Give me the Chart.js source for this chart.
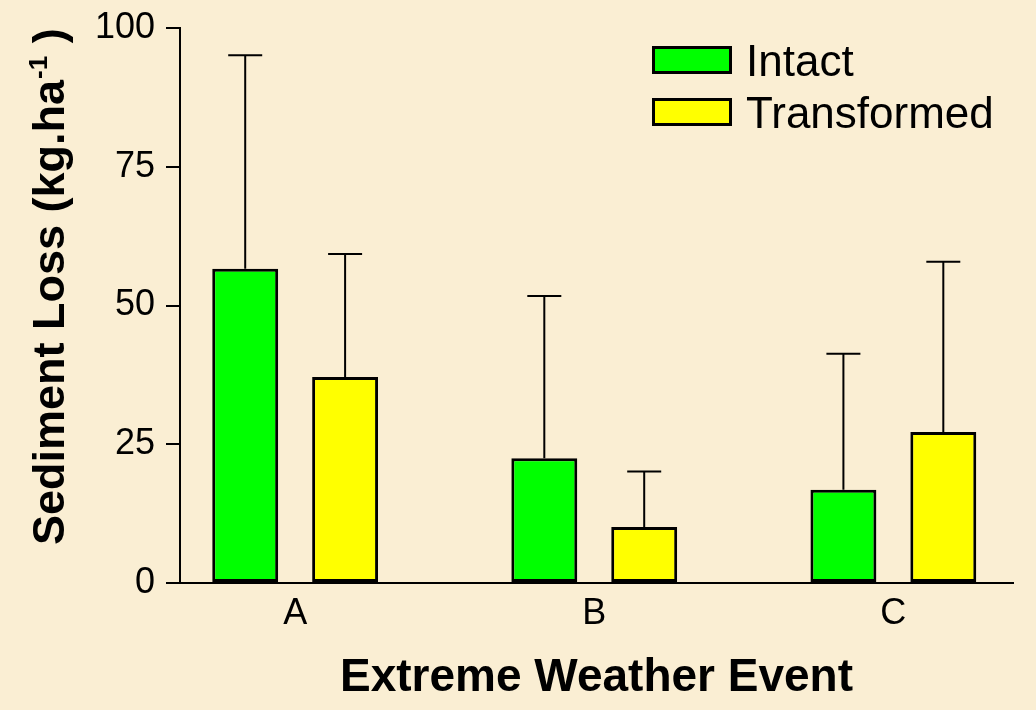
<!DOCTYPE html>
<html>
<head>
<meta charset="utf-8">
<script src="https://cdn.jsdelivr.net/npm/chart.js@4"></script>
<style>
  html, body { margin: 0; padding: 0; background: #faeed3; }
  #wrap { width: 1036px; height: 710px; }
</style>
</head>
<body>
<div id="wrap"><canvas id="sedimentChart"></canvas></div>
<script>
const events = ['A', 'B', 'C'];
const intactMean = [56.6, 22.5, 16.8];
const intactErr = [38.5, 29.2, 24.5];
const transformedMean = [37.1, 10.1, 27.2];
const transformedErr = [22.2, 10.0, 30.7];
const yTicks = [0, 25, 50, 75, 100];

const FONT = '"Liberation Sans", Arial, sans-serif';

// upper error bars (mean + SE)
const errorBars = {
    id: 'errorBars',
    afterDatasetsDraw(chart) {
        const ctx = chart.ctx;
        const y = chart.scales.y;
        ctx.save();
        ctx.strokeStyle = '#000';
        ctx.lineWidth = 2;
        chart.data.datasets.forEach((ds, di) => {
            const meta = chart.getDatasetMeta(di);
            meta.data.forEach((bar, i) => {
                const top = y.getPixelForValue(ds.data[i].y + ds.err[i]);
                ctx.beginPath();
                ctx.moveTo(bar.x, bar.y);
                ctx.lineTo(bar.x, top);
                ctx.moveTo(bar.x - 17, top);
                ctx.lineTo(bar.x + 17, top);
                ctx.stroke();
            });
        });
        ctx.restore();
    }
};

// y title with superscript, and the legend inside the plot
const extras = {
    id: 'extras',
    afterDraw(chart) {
        const ctx = chart.ctx;
        const area = chart.chartArea;
        ctx.save();

        // y axis title
        ctx.translate(64, 545);
        ctx.rotate(-Math.PI / 2);
        ctx.fillStyle = '#000';
        ctx.textBaseline = 'alphabetic';
        ctx.font = 'bold 45px ' + FONT;
        const main = 'Sediment Loss (kg.ha';
        ctx.fillText(main, 0, 0);
        let w = ctx.measureText(main).width;
        ctx.font = 'bold 26px ' + FONT;
        ctx.fillText('-1', w + 1, -17);
        w += ctx.measureText('-1').width + 1;
        ctx.font = 'bold 45px ' + FONT;
        ctx.fillText(' )', w, 0);
        ctx.setTransform(1, 0, 0, 1, 0, 0);

        // legend
        const bx = area.right - 361;
        ctx.font = '44px ' + FONT;
        chart.data.datasets.forEach((ds, i) => {
            const by = 46 + i * 52;
            ctx.fillStyle = ds.backgroundColor;
            ctx.fillRect(bx, by, 80, 28);
            ctx.strokeStyle = '#000';
            ctx.lineWidth = 3;
            ctx.strokeRect(bx + 1.5, by + 1.5, 77, 25);
            ctx.fillStyle = '#000';
            ctx.fillText(ds.label, bx + 94, by + 30);
        });
        ctx.restore();
    }
};

const ctx = document.getElementById('sedimentChart').getContext('2d');
const sedimentChart = new Chart(ctx, {
    type: 'bar',
    data: {
        datasets: [{
            label: 'Intact',
            data: intactMean.map((v, i) => ({ x: i, y: v })),
            err: intactErr,
            backgroundColor: '#00ff00',
            borderColor: '#000',
            borderWidth: 3,
            borderSkipped: false
        }, {
            label: 'Transformed',
            data: transformedMean.map((v, i) => ({ x: i, y: v })),
            err: transformedErr,
            backgroundColor: '#ffff00',
            borderColor: '#000',
            borderWidth: 3,
            borderSkipped: false
        }]
    },
    options: {
        responsive: true,
        maintainAspectRatio: false,
        animation: false,
        categoryPercentage: 0.668,
        barPercentage: 0.66,
        layout: { padding: { left: 0, top: 28, right: 23, bottom: 0 } },
        plugins: {
            legend: { display: false },
            tooltip: { enabled: false }
        },
        scales: {
            x: {
                type: 'linear',
                offset: false,
                min: -0.385,
                max: 2.4,
                afterBuildTicks: s => { s.ticks = events.map((e, i) => ({ value: i })); },
                afterFit: s => { s.height = 127; },
                ticks: {
                    callback: v => events[v] ?? '',
                    color: '#000',
                    font: { family: FONT, size: 36 },
                    padding: 1,
                    maxRotation: 0
                },
                grid: { display: false },
                border: { color: '#000', width: 2 },
                title: {
                    display: true,
                    text: 'Extreme Weather Event',
                    color: '#000',
                    font: { family: FONT, size: 46, weight: 'bold' },
                    padding: { top: 0, bottom: 4 }
                }
            },
            y: {
                min: 0,
                max: 100,
                afterBuildTicks: s => { s.ticks = yTicks.map(v => ({ value: v })); },
                afterFit: s => { s.width = 180; },
                ticks: {
                    color: '#000',
                    font: { family: FONT, size: 36, lineHeight: 0.9 },
                    padding: 11
                },
                grid: {
                    drawOnChartArea: false,
                    drawTicks: true,
                    tickLength: 14,
                    color: '#000',
                    lineWidth: 2
                },
                border: { color: '#000', width: 2 }
            }
        }
    },
    plugins: [errorBars, extras]
});
</script>
</body>
</html>
